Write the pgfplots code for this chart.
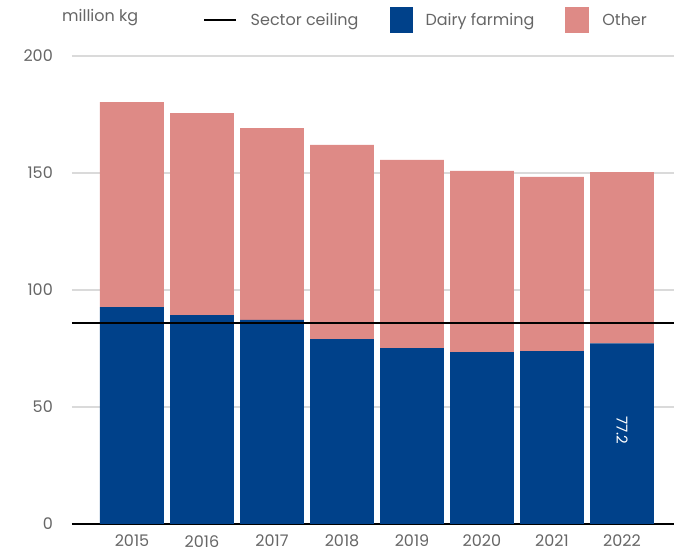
\documentclass[border=0pt]{standalone}
\usepackage{pgfplots}
\pgfplotsset{compat=1.18}
\usepackage{fontspec}
\setmainfont{Poppins}
\definecolor{dairy}{HTML}{00418A}
\definecolor{other}{HTML}{DE8A86}
\definecolor{txt}{HTML}{666666}
\definecolor{grd}{HTML}{DADADA}
\begin{document}
\begin{tikzpicture}[font=\fontsize{16}{18}\selectfont]
\useasboundingbox (-72pt,-29pt) rectangle (614pt,524pt);
\begin{axis}[
  at={(0,0)}, anchor=south west,
  scale only axis, width=602pt, height=468pt,
  xmin=-0.857, xmax=7.743, ymin=0, ymax=200,
  ybar stacked, bar width=0.914,
  axis x line*=bottom, axis y line*=left,
  y axis line style={draw=none},
  x axis line style={black, line width=2.5pt},
  xtick style={draw=none}, ytick style={draw=none},
  ytick={0,50,100,150,200},
  xtick={0,...,7},
  xticklabels={2015,2016,2017,2018,2019,2020,2021,2022},
  ymajorgrids, grid style={grd, line width=1.5pt},
  ticklabel style={txt, font=\fontsize{16}{18}\selectfont},
  /pgf/number format/assume math mode=true,
  yticklabel style={inner sep=0pt, anchor=east, xshift=-19pt},
  xticklabel style={inner sep=0pt, anchor=north, yshift=-11pt},
  legend columns=3,
  legend cell align=left,
  legend style={draw=none, fill=none, inner sep=0pt,
    at={(0.2176,1.0769)}, anchor=west, text=txt,
    font=\fontsize{16}{18}\selectfont,
    /tikz/every odd column/.append style={column sep=11pt},
    /tikz/every even column/.append style={column sep=29pt}},
]
\addlegendimage{legend image code/.code={\draw[black, line width=2.5pt] (0pt,0pt) -- (32pt,0pt);}}
\addlegendentry{Sector ceiling}
\addplot[fill=dairy, draw=none, legend image code/.code={\fill[dairy] (0pt,-13pt) rectangle (23pt,13pt);}]
  coordinates {(0,92.7) (1,89.3) (2,87.2) (3,79.0) (4,75.2) (5,73.5) (6,73.9) (7,77.2)};
\addlegendentry{Dairy farming}
\addplot[fill=other, draw=none, legend image code/.code={\fill[other] (0pt,-13pt) rectangle (24pt,13pt);}]
  coordinates {(0,87.6) (1,86.3) (2,82.0) (3,83.0) (4,80.4) (5,77.4) (6,74.4) (7,73.2)};
\addlegendentry{Other}
\end{axis}
\begin{axis}[
  at={(0,0)}, anchor=south west,
  scale only axis, width=602pt, height=468pt,
  xmin=-0.857, xmax=7.743, ymin=0, ymax=200,
  hide axis, clip=false]
\addplot[black, line width=2.5pt] coordinates {(-0.857,86.0) (7.743,86.0)};
\node[rotate=-90, white, font=\fontsize{15}{17}\selectfont] at (axis cs:7,40) {77.2};
\end{axis}
\node[anchor=west, txt, inner sep=0pt] at (-10pt,506pt) {million kg};
\end{tikzpicture}
\end{document}
